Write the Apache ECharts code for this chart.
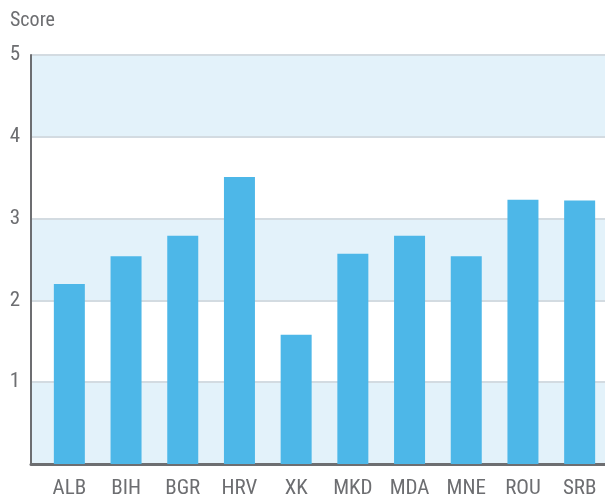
<!DOCTYPE html>
<html><head><meta charset="utf-8">
<script src="https://cdn.jsdelivr.net/npm/echarts@6/dist/echarts.min.js"></script>
<style>html,body{margin:0;padding:0;background:#fff}#c{width:605px;height:496px}</style>
</head><body><div id="c"></div>
<script>
var categories = ['ALB','BIH','BGR','HRV','XK','MKD','MDA','MNE','ROU','SRB'];
var scores = [2.2, 2.54, 2.79, 3.51, 1.58, 2.57, 2.79, 2.54, 3.23, 3.22];
var yTicks = [0, 1, 2, 3, 4, 5];

var FONT = '"Roboto Condensed", "Liberation Sans", sans-serif';
var TXT = '#6d6e71';
var chart = echarts.init(document.getElementById('c'), null, {renderer: 'canvas'});
chart.setOption({
  animation: false,
  graphic: [{type: 'text', left: 10, top: 11, style: {text: 'Score', fill: TXT, font: '20px ' + FONT}}],
  grid: [
    {left: 31, right: 0, top: 55, bottom: 32, containLabel: false, outerBoundsMode: 'none'},
    {left: 41, right: -3, top: 55, bottom: 32, containLabel: false, outerBoundsMode: 'none'}
  ],
  xAxis: [
    {gridIndex: 0, type: 'category', data: categories, axisLine: {show: true, lineStyle: {color: '#6d6e71', width: 3}},
     axisTick: {show: false}, axisLabel: {show: false}},
    {gridIndex: 1, type: 'category', data: categories, axisLine: {show: false}, axisTick: {show: false},
     axisLabel: {color: TXT, fontFamily: FONT, fontSize: 21, margin: 14}}
  ],
  yAxis: [
    {gridIndex: 0, type: 'value', min: yTicks[0], max: yTicks[yTicks.length - 1], interval: 1,
     axisLine: {show: true, lineStyle: {color: '#6d6e71', width: 2}}, axisTick: {show: false},
     axisLabel: {color: TXT, fontFamily: FONT, fontSize: 21, margin: 11,
       formatter: function (v) { return v === 0 ? '' : v; }},
     splitLine: {show: true, lineStyle: {color: '#d3dbe1', width: 2}},
     splitArea: {show: true, areaStyle: {color: ['#e3f2fa', '#ffffff']}}},
    {gridIndex: 1, type: 'value', min: 0, max: 5, interval: 1, show: false}
  ],
  series: [{
    type: 'bar', xAxisIndex: 1, yAxisIndex: 1, data: scores, barWidth: 31,
    itemStyle: {color: '#4db7e8'}
  }]
});
</script></body></html>
